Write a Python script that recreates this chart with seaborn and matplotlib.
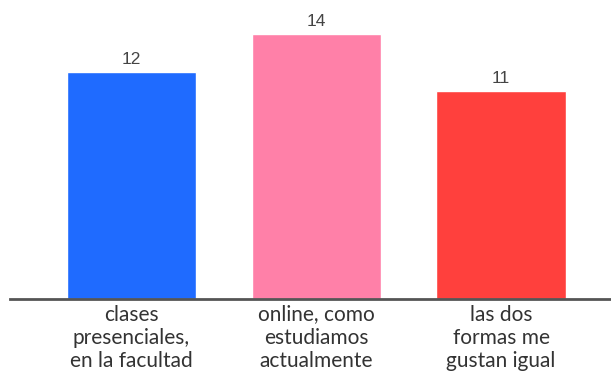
import matplotlib
matplotlib.use("Agg")
import matplotlib.pyplot as plt
import seaborn as sns
import pandas as pd

categories = [
    "clases\npresenciales,\nen la facultad",
    "online, como\nestudiamos\nactualmente",
    "las dos\nformas me\ngustan igual",
]
values = [12, 14, 11]
colors = ["#1F6BFF", "#FF80A8", "#FF403D"]

df = pd.DataFrame({"opcion": categories, "votos": values})

sns.set_theme(style="white")
plt.rcParams["font.family"] = ["Lato", "DejaVu Sans"]

fig = plt.figure(figsize=(6.11, 3.71), dpi=100)
ax = fig.add_axes([10 / 611, 72 / 371, 601 / 611, 299 / 371])

sns.barplot(data=df, x="opcion", y="votos", hue="opcion", palette=colors,
            legend=False, width=0.70, ax=ax, saturation=1)

for cont in ax.containers:
    ax.bar_label(cont, fmt="%d", padding=4, fontsize=12.5, color="#444444",
                 family=["Liberation Sans", "DejaVu Sans"])

ax.set_xlim(-0.657, 2.595)
ax.set_ylim(0, 15.82)
ax.set_xlabel("")
ax.set_ylabel("")
ax.set_yticks([])
for side in ["top", "right", "left"]:
    ax.spines[side].set_visible(False)
ax.spines["bottom"].set_color("#555555")
ax.spines["bottom"].set_linewidth(2)
ax.tick_params(axis="x", length=0, pad=4, labelsize=15, labelcolor="#333333")
for lbl in ax.get_xticklabels():
    lbl.set_linespacing(1.2)
    lbl.set_verticalalignment("top")

fig.savefig("out.png", dpi=100)
